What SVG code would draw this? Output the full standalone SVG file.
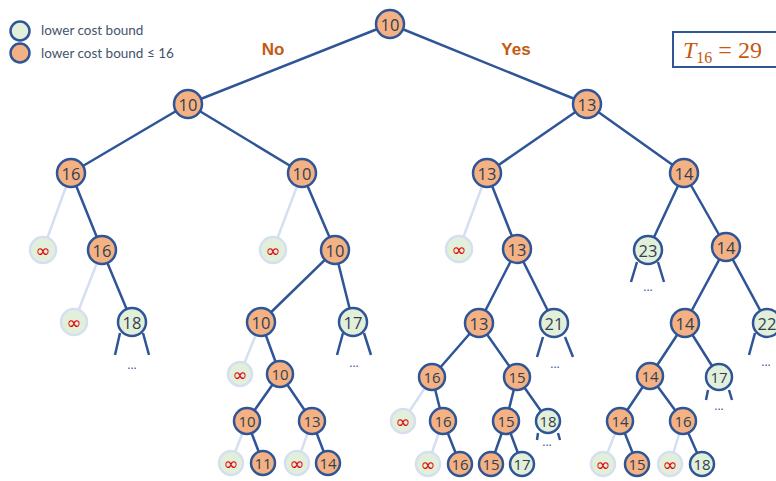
<svg xmlns="http://www.w3.org/2000/svg" width="776" height="481" viewBox="0 0 776 481">
<style>
.e{stroke:#2f5597;stroke-width:2.5;fill:none}
.el{stroke:#d6dff0;stroke-width:2.5;fill:none}
.o{fill:#f4b183;stroke:#2f5597;stroke-width:2.5}
.g{fill:#e2efda;stroke:#2f5597;stroke-width:2.5}
.i{fill:#e2efda;stroke:#d6dff0;stroke-width:2.5}
.t{font-family:'Open Sans','Noto Sans',sans-serif;font-size:16.5px;fill:#333f50;text-anchor:middle;dominant-baseline:central}
.s{font-size:15px}
.inf{font-family:'DejaVu Sans',sans-serif;font-size:18px;fill:#e00000;text-anchor:middle;dominant-baseline:central}
.dots{font-family:'Open Sans',sans-serif;font-size:12px;fill:#2f5597;text-anchor:middle}
.lg{font-family:'Lato','Open Sans',sans-serif;font-size:13.5px;fill:#44546a}
.lab{font-family:'Liberation Sans',Arial,sans-serif;font-size:17px;font-weight:bold;fill:#c55a11}
</style>
<g id="legend">
<circle cx="20" cy="31" r="9.5" class="g"/>
<text x="41" y="35" class="lg">lower cost bound</text>
<circle cx="20" cy="53" r="9.5" class="o"/>
<text x="41" y="58" class="lg">lower cost bound ≤ 16</text>
</g>
<g id="labels">
<text x="273" y="55" class="lab" text-anchor="middle">No</text>
<text x="516" y="55" class="lab" text-anchor="middle">Yes</text>
</g>
<g id="tbox">
<rect x="673" y="32" width="110" height="35" fill="#fff" stroke="#2f5597" stroke-width="2"/>
<text x="683" y="58" font-family="'Liberation Serif',serif" font-size="24" fill="#c55a11"><tspan font-style="italic">T</tspan><tspan font-size="16" dy="5">16</tspan><tspan dy="-5"> = 29</tspan></text>
</g>
<g id="connectors">
<path class="e" d="M390 24L188 104M390 24L587 104M188 104L71 173M188 104L302 173M71 173L102 250M102 250L132 322M302 173L335 250M335 250L261 322M335 250L353 322M261 322L280 374M280 374L247 421M280 374L312 421M247 421L263 463M312 421L328 463"/>
<path class="e" d="M587 104L487 173M587 104L684 173M487 173L517 249M517 249L479 323M517 249L554 323M479 323L432 377M479 323L517 377M432 377L443 421M443 421L460 464M517 377L506 421M517 377L548 421M506 421L491 464M506 421L522 464"/>
<path class="e" d="M684 173L648 250M684 173L726 247M726 247L685 323M726 247L767 323M685 323L650 376M685 323L719 377M650 376L620 421M650 376L683 421M620 421L637 464M683 421L702 464"/>
<path class="el" d="M71 173L43 250M102 250L74 322M302 173L273 250M261 322L240 374M247 421L231 463M312 421L297 463M487 173L459 249M432 377L403 421M443 421L428 464M620 421L603 464M683 421L670 464"/>
<path class="e" d="M120 333L115 355M143 333L149 355M343 333L337 355M364 333L371 355M543 337L537 357M565 337L573 357M538 433L537 440M558 433L560 440M637 262L631 282M658 262L664 282M755 333L749 355M777 333L783 355M708 390L706 400M729 390L732 400"/>
<text x="132" y="369" class="dots">...</text>
<text x="354" y="367" class="dots">...</text>
<text x="555" y="368" class="dots">...</text>
<text x="547" y="446" class="dots">...</text>
<text x="648" y="291" class="dots">...</text>
<text x="766" y="366" class="dots">...</text>
<text x="719" y="410" class="dots">...</text>
</g>
<g id="n_root"><circle cx="390" cy="24" r="14" class="o"/><text x="390" y="24" class="t">10</text></g>
<g id="n_L"><circle cx="188" cy="104" r="14" class="o"/><text x="188" y="104" class="t">10</text></g>
<g id="n_R"><circle cx="587" cy="104" r="14" class="o"/><text x="587" y="104" class="t">13</text></g>
<g id="n_A"><circle cx="71" cy="173" r="14" class="o"/><text x="71" y="173" class="t">16</text></g>
<g id="n_B"><circle cx="302" cy="173" r="14" class="o"/><text x="302" y="173" class="t">10</text></g>
<g id="n_C"><circle cx="487" cy="173" r="14" class="o"/><text x="487" y="173" class="t">13</text></g>
<g id="n_D"><circle cx="684" cy="173" r="14" class="o"/><text x="684" y="173" class="t">14</text></g>
<g id="n_Ai"><circle cx="43" cy="250" r="13" class="i"/><text x="43" y="250" class="inf">∞</text></g>
<g id="n_A2"><circle cx="102" cy="250" r="14" class="o"/><text x="102" y="250" class="t">16</text></g>
<g id="n_A2i"><circle cx="74" cy="322" r="13" class="i"/><text x="74" y="322" class="inf">∞</text></g>
<g id="n_A18"><circle cx="132" cy="322" r="14" class="g"/><text x="132" y="322" class="t">18</text></g>
<g id="n_Bi"><circle cx="273" cy="250" r="13" class="i"/><text x="273" y="250" class="inf">∞</text></g>
<g id="n_B2"><circle cx="335" cy="250" r="14" class="o"/><text x="335" y="250" class="t">10</text></g>
<g id="n_B3"><circle cx="261" cy="322" r="14" class="o"/><text x="261" y="322" class="t">10</text></g>
<g id="n_B17"><circle cx="353" cy="322" r="14" class="g"/><text x="353" y="322" class="t">17</text></g>
<g id="n_B3i"><circle cx="240" cy="374" r="12" class="i"/><text x="240" y="374" class="inf">∞</text></g>
<g id="n_B4"><circle cx="280" cy="374" r="13" class="o"/><text x="280" y="374" class="t s">10</text></g>
<g id="n_B5"><circle cx="247" cy="421" r="13" class="o"/><text x="247" y="421" class="t s">10</text></g>
<g id="n_B6"><circle cx="312" cy="421" r="13" class="o"/><text x="312" y="421" class="t s">13</text></g>
<g id="n_B5i"><circle cx="231" cy="463" r="12" class="i"/><text x="231" y="463" class="inf">∞</text></g>
<g id="n_B11"><circle cx="263" cy="463" r="12" class="o"/><text x="263" y="463" class="t s">11</text></g>
<g id="n_B6i"><circle cx="297" cy="463" r="12" class="i"/><text x="297" y="463" class="inf">∞</text></g>
<g id="n_B14"><circle cx="328" cy="463" r="12" class="o"/><text x="328" y="463" class="t s">14</text></g>
<g id="n_Ci"><circle cx="459" cy="249" r="13" class="i"/><text x="459" y="249" class="inf">∞</text></g>
<g id="n_C2"><circle cx="517" cy="249" r="14" class="o"/><text x="517" y="249" class="t">13</text></g>
<g id="n_C3"><circle cx="479" cy="323" r="14" class="o"/><text x="479" y="323" class="t">13</text></g>
<g id="n_C21"><circle cx="554" cy="323" r="14" class="g"/><text x="554" y="323" class="t">21</text></g>
<g id="n_C4"><circle cx="432" cy="377" r="13" class="o"/><text x="432" y="377" class="t s">16</text></g>
<g id="n_C5"><circle cx="517" cy="377" r="13" class="o"/><text x="517" y="377" class="t s">15</text></g>
<g id="n_C4i"><circle cx="403" cy="421" r="12" class="i"/><text x="403" y="421" class="inf">∞</text></g>
<g id="n_C6"><circle cx="443" cy="421" r="13" class="o"/><text x="443" y="421" class="t s">16</text></g>
<g id="n_C7"><circle cx="506" cy="421" r="13" class="o"/><text x="506" y="421" class="t s">15</text></g>
<g id="n_C18"><circle cx="548" cy="421" r="12" class="g"/><text x="548" y="421" class="t s">18</text></g>
<g id="n_C6i"><circle cx="428" cy="464" r="12" class="i"/><text x="428" y="464" class="inf">∞</text></g>
<g id="n_C16"><circle cx="460" cy="464" r="12" class="o"/><text x="460" y="464" class="t s">16</text></g>
<g id="n_C15"><circle cx="491" cy="464" r="12" class="o"/><text x="491" y="464" class="t s">15</text></g>
<g id="n_C17"><circle cx="522" cy="464" r="12" class="g"/><text x="522" y="464" class="t s">17</text></g>
<g id="n_D23"><circle cx="648" cy="250" r="14" class="g"/><text x="648" y="250" class="t">23</text></g>
<g id="n_D2"><circle cx="726" cy="247" r="14" class="o"/><text x="726" y="247" class="t">14</text></g>
<g id="n_D3"><circle cx="685" cy="323" r="14" class="o"/><text x="685" y="323" class="t">14</text></g>
<g id="n_D22"><circle cx="767" cy="323" r="14" class="g"/><text x="767" y="323" class="t">22</text></g>
<g id="n_D4"><circle cx="650" cy="376" r="13" class="o"/><text x="650" y="376" class="t s">14</text></g>
<g id="n_D17"><circle cx="719" cy="377" r="13" class="g"/><text x="719" y="377" class="t s">17</text></g>
<g id="n_D5"><circle cx="620" cy="421" r="13" class="o"/><text x="620" y="421" class="t s">14</text></g>
<g id="n_D6"><circle cx="683" cy="421" r="13" class="o"/><text x="683" y="421" class="t s">16</text></g>
<g id="n_D5i"><circle cx="603" cy="464" r="12" class="i"/><text x="603" y="464" class="inf">∞</text></g>
<g id="n_D15"><circle cx="637" cy="464" r="12" class="o"/><text x="637" y="464" class="t s">15</text></g>
<g id="n_D6i"><circle cx="670" cy="464" r="12" class="i"/><text x="670" y="464" class="inf">∞</text></g>
<g id="n_D18"><circle cx="702" cy="464" r="12" class="g"/><text x="702" y="464" class="t s">18</text></g>
</svg>
